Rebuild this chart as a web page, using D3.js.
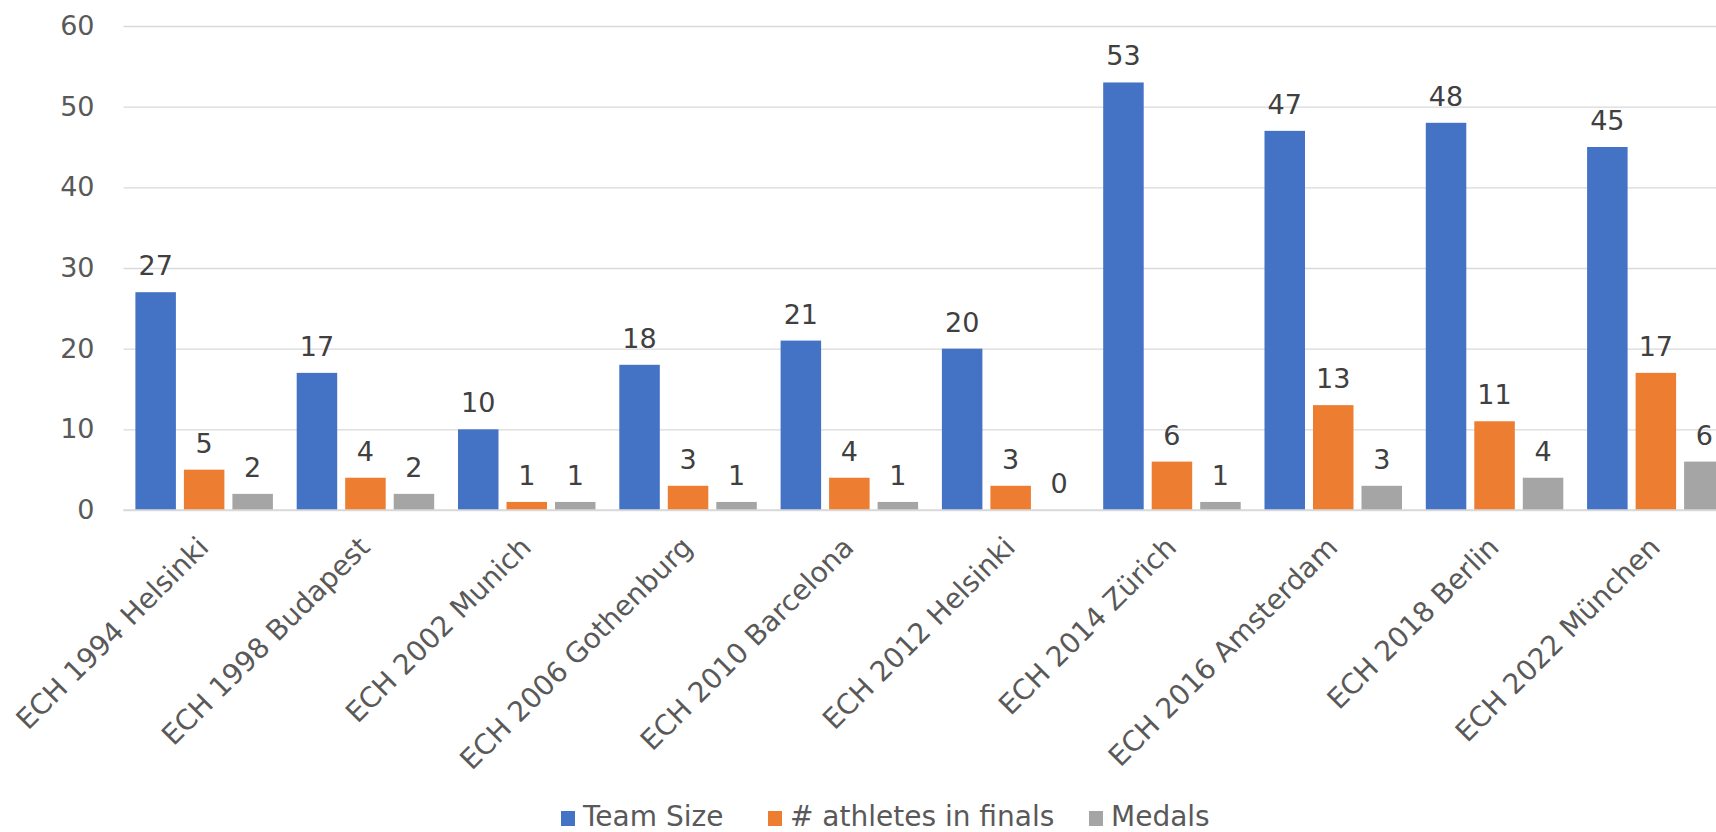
<!DOCTYPE html>
<html>
<head>
<meta charset="utf-8">
<script src="https://cdn.jsdelivr.net/npm/d3@7"></script>
<style>
  html, body { margin: 0; padding: 0; background: #fff; }
  svg { display: block; font-family: "DejaVu Sans", Verdana, sans-serif; }
</style>
</head>
<body>
<svg id="chart" width="1716" height="832"></svg>
<script>
const categories = ["ECH 1994 Helsinki", "ECH 1998 Budapest", "ECH 2002 Munich", "ECH 2006 Gothenburg",
  "ECH 2010 Barcelona", "ECH 2012 Helsinki", "ECH 2014 Zürich", "ECH 2016 Amsterdam",
  "ECH 2018 Berlin", "ECH 2022 München"];
const seriesNames = ["Team Size", "# athletes in finals", "Medals"];
const teamSize = [27, 17, 10, 18, 21, 20, 53, 47, 48, 45];
const athletesInFinals = [5, 4, 1, 3, 4, 3, 6, 13, 11, 17];
const medals = [2, 2, 1, 1, 1, 0, 1, 3, 4, 6];
const yTicks = [0, 10, 20, 30, 40, 50, 60];
const colors = ["#4472c4", "#ed7d31", "#a5a5a5"];

const seriesValues = [teamSize, athletesInFinals, medals];
const data = categories.map((c, i) => ({
  cat: c,
  vals: seriesNames.map((s, k) => ({ series: s, value: seriesValues[k][i], k }))
}));

const svg = d3.select("#chart");
const plotLeft = 123.5, plotRight = 1736.5, plotTop = 26, plotBottom = 510;

const x0 = d3.scaleBand().domain(categories).range([plotLeft, plotRight])
  .paddingInner(0.1475).paddingOuter(0.07375);
const x1 = d3.scaleBand().domain(seriesNames).range([0, x0.bandwidth()])
  .paddingInner(0.165).paddingOuter(0);
const y = d3.scaleLinear().domain([0, 60]).range([plotBottom, plotTop]);

// gridlines
const grid = svg.append("g").attr("class", "grid")
  .attr("transform", `translate(${plotLeft},0)`)
  .call(d3.axisLeft(y).tickValues(yTicks).tickSize(-(1716 - plotLeft)).tickFormat(""));
grid.select(".domain").remove();
grid.selectAll("line").attr("stroke", "#d9d9d9").attr("stroke-width", 1.3);

// y tick labels
const yAxis = svg.append("g")
  .attr("transform", `translate(${plotLeft},0)`)
  .call(d3.axisLeft(y).tickValues(yTicks).tickSize(0).tickPadding(29));
yAxis.select(".domain").remove();
yAxis.selectAll("text")
  .attr("fill", "#595959")
  .style("font-size", "27px")
  .style("font-family", '"DejaVu Sans", Verdana, sans-serif');

// bars
const groups = svg.append("g").selectAll("g").data(data).join("g")
  .attr("transform", d => `translate(${x0(d.cat)},0)`);
groups.selectAll("rect").data(d => d.vals).join("rect")
  .attr("x", d => x1(d.series))
  .attr("width", x1.bandwidth())
  .attr("y", d => y(d.value))
  .attr("height", d => y(0) - y(d.value))
  .attr("fill", d => colors[d.k]);
groups.selectAll("text").data(d => d.vals).join("text")
  .attr("x", d => x1(d.series) + x1.bandwidth() / 2)
  .attr("y", d => y(d.value) - 17)
  .attr("text-anchor", "middle")
  .attr("fill", "#404040")
  .style("font-size", "27px")
  .text(d => d.value);

// x axis line
const xAxis = svg.append("g")
  .attr("transform", `translate(0,${plotBottom})`)
  .call(d3.axisBottom(x0).tickSize(0).tickPadding(0));
xAxis.select(".domain").attr("stroke", "#d9d9d9").attr("stroke-width", 1.5)
  .attr("d", `M${plotLeft},0H1716`);
xAxis.selectAll(".tick text")
  .attr("fill", "#595959")
  .style("font-size", "28px")
  .style("font-family", '"DejaVu Sans", Verdana, sans-serif')
  .attr("text-anchor", "end")
  .attr("dy", null)
  .attr("y", null)
  .attr("transform", "translate(6,39) rotate(-45)");

// legend
const legendX = [561, 768, 1089];
const legend = svg.append("g").attr("transform", "translate(0,817)");
const li = legend.selectAll("g").data(seriesNames).join("g")
  .attr("transform", (d, i) => `translate(${legendX[i]},0)`);
li.append("rect").attr("x", 0).attr("y", -6).attr("width", 14).attr("height", 15)
  .attr("fill", (d, i) => colors[i]);
li.append("text").attr("x", 22).attr("y", 9)
  .attr("fill", "#595959").style("font-size", "28px")
  .text(d => d);
</script>
</body>
</html>
